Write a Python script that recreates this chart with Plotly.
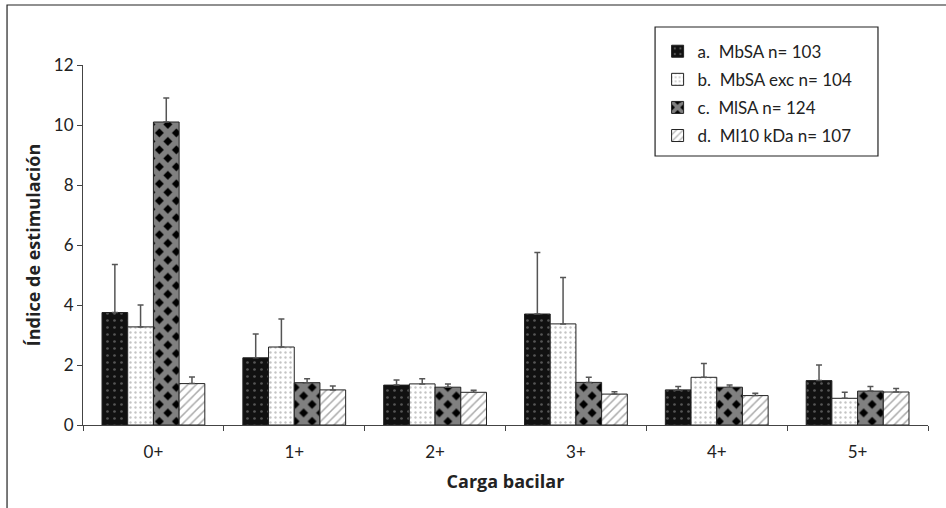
import plotly.graph_objects as go

categories = ["0+", "1+", "2+", "3+", "4+", "5+"]

series_names = ["a.  MbSA n= 103", "b.  MbSA exc n= 104", "c.  MlSA n= 124", "d.  Ml10 kDa n= 107"]

mbsa = [3.75, 2.24, 1.33, 3.70, 1.17, 1.48]
mbsa_err = [1.60, 0.79, 0.17, 2.05, 0.11, 0.52]

mbsa_exc = [3.27, 2.60, 1.37, 3.37, 1.59, 0.89]
mbsa_exc_err = [0.73, 0.93, 0.17, 1.55, 0.46, 0.20]

mlsa = [10.10, 1.41, 1.26, 1.42, 1.26, 1.13]
mlsa_err = [0.80, 0.13, 0.11, 0.17, 0.07, 0.15]

ml10 = [1.38, 1.17, 1.09, 1.03, 0.98, 1.10]
ml10_err = [0.22, 0.13, 0.07, 0.08, 0.08, 0.12]

values = [mbsa, mbsa_exc, mlsa, ml10]
errors = [mbsa_err, mbsa_exc_err, mlsa_err, ml10_err]

patterns = [
    dict(shape=".", bgcolor="#111111", fgcolor="#9a9a9a", size=7, solidity=0.12),
    dict(shape=".", bgcolor="#ffffff", fgcolor="#8a8a8a", size=5, solidity=0.18),
    dict(shape="x", bgcolor="#000000", fgcolor="#ffffff", size=12, solidity=0.72),
    dict(shape="/", bgcolor="#ffffff", fgcolor="#555555", size=6, solidity=0.25),
]

FONT = "Lato, Liberation Sans, sans-serif"
BOLD = "Open Sans, sans-serif"

fig = go.Figure()
for i in range(4):
    fig.add_trace(go.Bar(
        x=categories, y=values[i], name=series_names[i],
        legendgroup=str(i),
        marker=dict(color="#ffffff", line=dict(color="#222222", width=1), pattern=patterns[i]),
        error_y=dict(type="data", array=errors[i], arrayminus=[0] * 6, symmetric=False,
                     color="#555555", thickness=1.5, width=3),
    ))

fig.update_layout(
    width=946, height=508,
    margin=dict(l=83, r=18, t=65, b=83),
    paper_bgcolor="white", plot_bgcolor="white",
    barmode="group", bargap=0.27, bargroupgap=0,
    font=dict(family=FONT, size=17, color="#222222"),
    showlegend=True,
    legend=dict(x=0.68, y=1.087, xanchor="left", yanchor="top",
                borderwidth=0, bgcolor="rgba(0,0,0,0)",
                font=dict(size=17), tracegroupgap=3, itemwidth=30),
    xaxis=dict(showline=True, linecolor="#444444", linewidth=1.2,
               ticks="outside", ticklen=5, tickcolor="#444444", tickson="boundaries",
               showgrid=False, tickfont=dict(size=17), ticklabelstandoff=11,
               title=dict(text="<b>Carga bacilar</b>", font=dict(size=18, family=BOLD), standoff=14)),
    yaxis=dict(range=[0, 12], dtick=2, showline=True, linecolor="#444444", linewidth=1.2,
               ticks="outside", ticklen=5, tickcolor="#444444", showgrid=False, zeroline=False,
               tickfont=dict(size=17),
               title=dict(text="<b>Índice de estimulación</b>", font=dict(size=18, family=BOLD), standoff=8)),
)

# outer frame
fig.add_shape(type="rect", xref="paper", yref="paper",
              x0=-0.0899, x1=1.2, y0=-0.5, y1=1.1667,
              line=dict(color="#222222", width=1.2), fillcolor="rgba(0,0,0,0)", layer="below")
# legend box
fig.add_shape(type="rect", xref="paper", yref="paper",
              x0=0.677, x1=0.9408, y0=0.7472, y1=1.1056,
              line=dict(color="#222222", width=1.2), fillcolor="white", layer="below")

fig.write_html("out.html", config={"displayModeBar": False},
               post_script="document.body.style.margin='0';")
